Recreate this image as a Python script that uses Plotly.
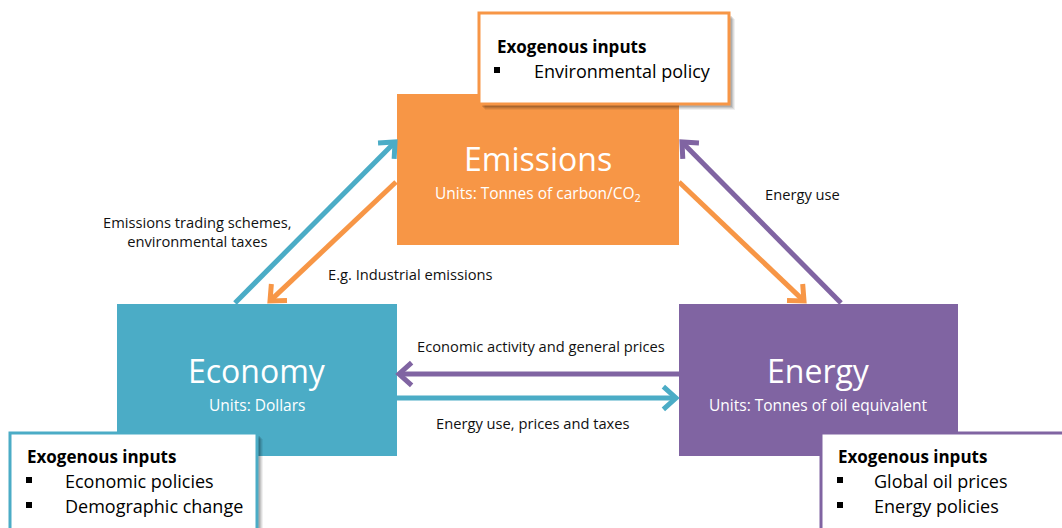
import math
import plotly.graph_objects as go

# ---- content ----
node_names = ["Emissions", "Economy", "Energy"]
node_units = ["Units: Tonnes of carbon/CO<sub>2</sub>", "Units: Dollars", "Units: Tonnes of oil equivalent"]
node_colors = ["#F79646", "#4BACC6", "#8064A2"]

edge_from = ["Economy", "Emissions", "Emissions", "Energy", "Energy", "Economy"]
edge_to = ["Emissions", "Economy", "Energy", "Emissions", "Economy", "Energy"]
edge_labels = ["Emissions trading schemes,<br>environmental taxes", "E.g. Industrial emissions",
               "", "Energy use", "Economic activity and general prices", "Energy use, prices and taxes"]

exo_title = "Exogenous inputs"
exo_items = {
    "Emissions": ["Environmental policy"],
    "Economy": ["Economic policies", "Demographic change"],
    "Energy": ["Global oil prices", "Energy policies"],
}

# ---- layout geometry (pixels, y downwards) ----
W, H = 1062, 528
FONT = "Open Sans"
box = {"Emissions": (397, 94, 679, 245), "Economy": (117, 304, 397, 456), "Energy": (679, 304, 958, 456)}
title_y = {"Emissions": 158, "Economy": 370, "Energy": 370}
units_y = {"Emissions": 193, "Economy": 405, "Energy": 405}
exo_box = {"Emissions": (479, 13, 729, 104), "Economy": (10, 433, 257, 545), "Energy": (821, 433, 1080, 545)}
exo_text_x = {"Emissions": (495, 497, 532), "Economy": (25, 29, 63), "Energy": (836, 840, 872)}
exo_text_y0 = {"Emissions": 46, "Economy": 456, "Energy": 456}
arrow_pts = [((235, 303), (395, 142)), ((396, 182), (270, 301)), ((679, 182), (804, 301)),
             ((841, 303), (682, 142)), ((679, 374), (399, 374)), ((397, 398), (676, 398))]
label_pos = [(197, 231), (410, 274), None, (802, 194), (541, 346), (533, 423)]

fig = go.Figure()
shapes, annots = [], []
color_of = dict(zip(node_names, node_colors))

# main boxes
for name in node_names:
    x0, y0, x1, y1 = box[name]
    shapes.append(dict(type="rect", x0=x0, y0=y0, x1=x1, y1=y1, fillcolor=color_of[name],
                       line=dict(width=0), layer="above"))

# arrows
for (p0, p1), src in zip(arrow_pts, edge_from):
    col = color_of[src]
    (x0, y0), (x1, y1) = p0, p1
    ang = math.atan2(y1 - y0, x1 - x0)
    L, spread = 17, math.radians(42)
    ax = x1 - L * math.cos(ang - spread); ay = y1 - L * math.sin(ang - spread)
    bx = x1 - L * math.cos(ang + spread); by = y1 - L * math.sin(ang + spread)
    ex = x1 - 2 * math.cos(ang); ey = y1 - 2 * math.sin(ang)
    shapes.append(dict(type="path", path=f"M {x0} {y0} L {ex} {ey}", line=dict(color=col, width=5), layer="above"))
    shapes.append(dict(type="path", path=f"M {ax} {ay} L {x1} {y1} L {bx} {by}",
                       line=dict(color=col, width=5), layer="above"))

# exogenous boxes with shadow
for name in node_names:
    x0, y0, x1, y1 = exo_box[name]
    for k, a in [(6, 0.06), (5, 0.08), (4, 0.10), (3, 0.12)]:
        shapes.append(dict(type="rect", x0=x0 + k, y0=y0 + k, x1=x1 + k, y1=y1 + k,
                           fillcolor=f"rgba(0,0,0,{a})", line=dict(width=0), layer="above"))
    shapes.append(dict(type="rect", x0=x0, y0=y0, x1=x1, y1=y1, fillcolor="white",
                       line=dict(color=color_of[name], width=3), layer="above"))
    tx, bx_, ix = exo_text_x[name]
    ty = exo_text_y0[name]
    annots.append(dict(x=tx, y=ty, text=f"<b>{exo_title}</b>", xanchor="left", yanchor="middle",
                       showarrow=False, font=dict(size=17, color="black", family=FONT)))
    for i, item in enumerate(exo_items[name]):
        yy = ty + 25 * (i + 1)
        shapes.append(dict(type="rect", x0=bx_ - 3, y0=yy - 4, x1=bx_ + 3, y1=yy + 2,
                           fillcolor="black", line=dict(width=0), layer="above"))
        annots.append(dict(x=ix, y=yy, text=item, xanchor="left", yanchor="middle",
                           showarrow=False, font=dict(size=18, color="black", family=FONT)))

# node texts
for name, unit in zip(node_names, node_units):
    x0, y0, x1, y1 = box[name]
    cx = (x0 + x1) / 2
    annots.append(dict(x=cx, y=title_y[name], text=name, showarrow=False, xanchor="center", yanchor="middle",
                       font=dict(size=32, color="white", family=FONT)))
    annots.append(dict(x=cx, y=units_y[name], text=unit, showarrow=False, xanchor="center", yanchor="middle",
                       font=dict(size=15.5, color="white", family=FONT)))

# edge labels
for lab, pos in zip(edge_labels, label_pos):
    if not lab or pos is None:
        continue
    annots.append(dict(x=pos[0], y=pos[1], text=lab, showarrow=False, xanchor="center", yanchor="middle",
                       align="center", font=dict(size=14.7, color="#111111", family=FONT)))

fig.update_layout(
    width=W, height=H, margin=dict(l=0, r=0, t=0, b=0),
    paper_bgcolor="white", plot_bgcolor="white",
    xaxis=dict(range=[0, W], visible=False, fixedrange=True),
    yaxis=dict(range=[H, 0], visible=False, fixedrange=True),
    shapes=shapes, annotations=annots, showlegend=False,
)
fig.write_html("out.html", config={"displayModeBar": False},
               post_script="document.body.style.margin='0px';document.body.style.overflow='hidden';")
